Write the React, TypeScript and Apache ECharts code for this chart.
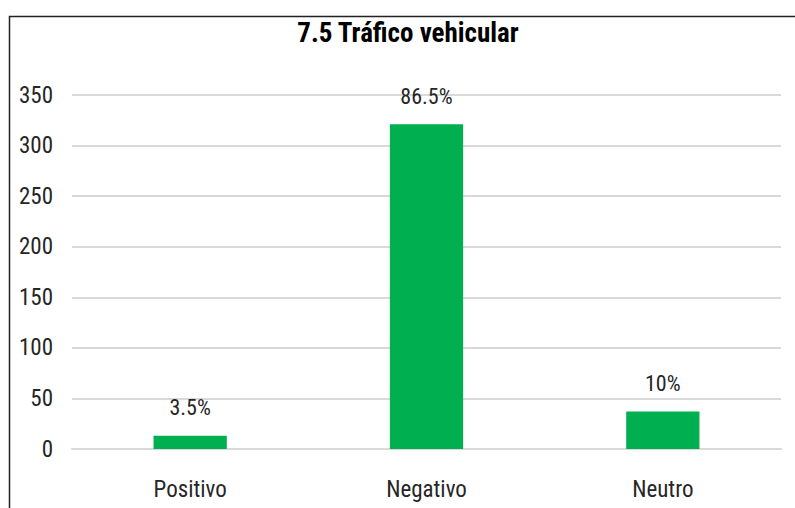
import React, { useEffect, useRef } from "react";
import * as echarts from "echarts";

const categories = ["Positivo", "Negativo", "Neutro"];
const values = [13, 321, 37];
const percentLabels = ["3.5%", "86.5%", "10%"];
const titleText = "7.5 Tráfico vehicular";

const FONT = "'Liberation Sans Narrow', 'Arial Narrow', 'Roboto Condensed', 'Liberation Sans', sans-serif";

export default function App() {
  const ref = useRef<HTMLDivElement>(null);
  useEffect(() => {
    document.body.style.margin = "0";
    const chart = echarts.init(ref.current!, null, { renderer: "svg" });
    chart.setOption({
      animation: false,
      backgroundColor: "#ffffff",
      title: {
        text: titleText,
        left: 408,
        textAlign: "center",
        top: 19,
        padding: 0,
        textStyle: { fontFamily: FONT, fontSize: 27, fontWeight: "bold", color: "#000000" },
      },
      graphic: [
        {
          type: "rect",
          shape: { x: 9.5, y: 16.5, width: 820, height: 600 },
          style: { fill: "none", stroke: "#222222", lineWidth: 1.5 },
          silent: true,
        },
      ],
      grid: { left: 72, right: 14, top: 95, bottom: 59, containLabel: false },
      xAxis: {
        type: "category",
        data: categories,
        axisTick: { show: false },
        axisLine: { show: true, lineStyle: { color: "#d9d9d9", width: 2 } },
        axisLabel: { margin: 29, fontFamily: FONT, fontSize: 23, color: "#262626" },
      },
      yAxis: {
        type: "value",
        min: 0,
        max: 350,
        interval: 50,
        axisLine: { show: false },
        axisTick: { show: false },
        splitLine: { lineStyle: { color: "#d9d9d9", width: 2 } },
        axisLabel: { margin: 19, fontFamily: FONT, fontSize: 23, color: "#262626" },
      },
      series: [
        {
          type: "bar",
          data: values,
          barWidth: "31%",
          itemStyle: { color: "#00B050" },
          label: {
            show: true,
            position: "top",
            distance: 17,
            fontFamily: FONT,
            fontSize: 22,
            color: "#262626",
            formatter: (p: any) => percentLabels[p.dataIndex],
          },
        },
      ],
    });
    return () => chart.dispose();
  }, []);
  return <div ref={ref} style={{ width: 795, height: 508 }} />;
}
